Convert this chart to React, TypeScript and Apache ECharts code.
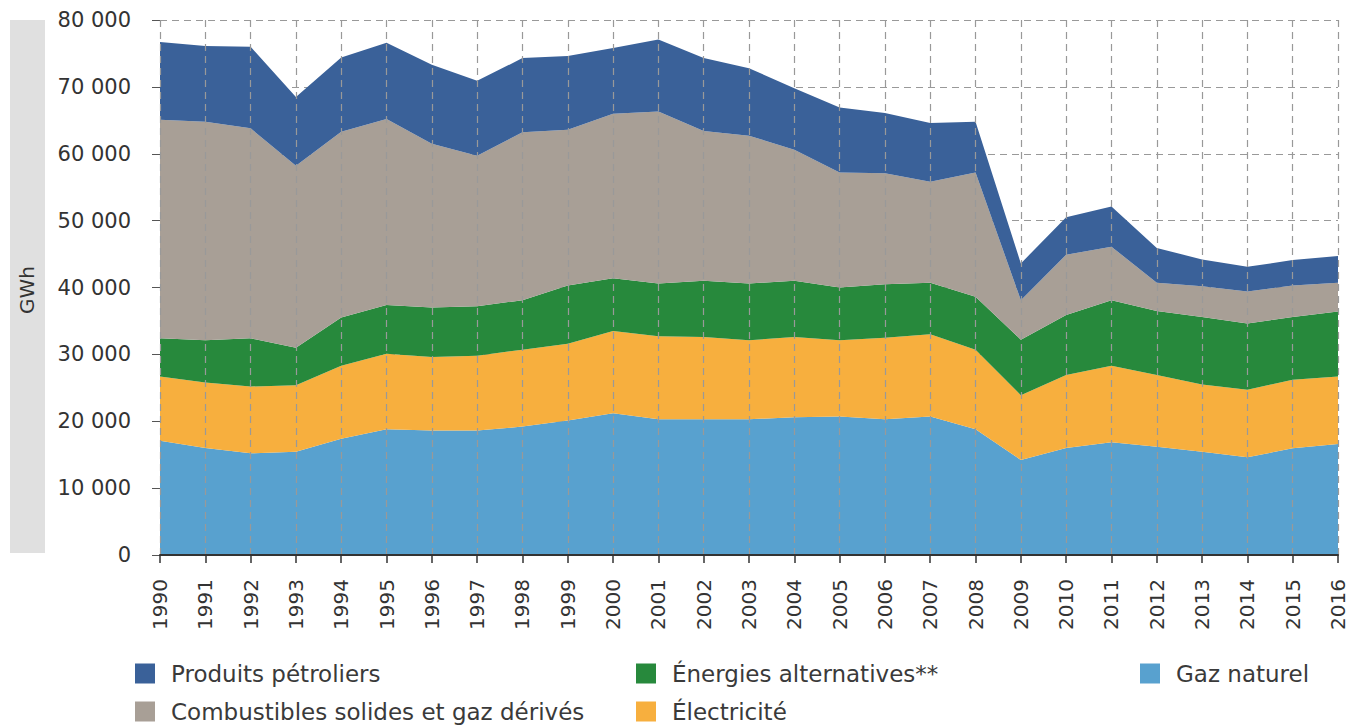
import React, { useEffect, useRef } from "react";
import * as echarts from "echarts";

const years = ["1990","1991","1992","1993","1994","1995","1996","1997","1998","1999","2000","2001","2002","2003","2004","2005","2006","2007","2008","2009","2010","2011","2012","2013","2014","2015","2016"];

const gazNaturel = [17100,16000,15200,15450,17400,18800,18600,18600,19200,20100,21200,20300,20300,20300,20600,20700,20300,20700,18800,14200,16000,16850,16200,15450,14600,15950,16600];
const electricite = [9600,9800,10000,9950,10900,11300,11000,11200,11500,11500,12300,12400,12300,11800,12000,11400,12200,12300,11900,9700,10900,11450,10700,10050,10100,10250,10100];
const energiesAlternatives = [5700,6300,7200,5600,7200,7300,7400,7400,7400,8700,7900,7900,8400,8500,8400,7900,8000,7700,7900,8300,9000,9800,9600,10100,9900,9400,9700];
const combustibles = [32700,32700,31400,27200,27800,27800,24500,22500,25100,23300,24600,25700,22400,22100,19600,17200,16600,15100,18600,5900,9000,8000,4200,4600,4800,4700,4300];
const produitsPetroliers = [11600,11300,12200,10300,11100,11400,11800,11200,11100,11000,9800,10800,10900,10100,9200,9700,9000,8800,7600,5500,5600,6000,5200,4000,3700,3800,4000];

const yTicks = [0, 10000, 20000, 30000, 40000, 50000, 60000, 70000, 80000];

const FONT = "DejaVu Sans";

export default function App() {
  const ref = useRef<HTMLDivElement>(null);
  useEffect(() => {
    if (!ref.current) return;
    const chart = echarts.init(ref.current, null, { renderer: "svg" });
    const mk = (name: string, data: number[], color: string) => ({
      name,
      type: "line",
      stack: "total",
      data,
      symbol: "none",
      lineStyle: { width: 0 },
      areaStyle: { color, opacity: 1 },
      itemStyle: { color },
    });
    const legendItem = (name: string, left: number, top: number) => ({
      data: [name],
      left,
      top,
      orient: "horizontal",
      icon: "rect",
      itemWidth: 20,
      itemHeight: 20,
      padding: 0,
      selectedMode: false,
      textStyle: { fontFamily: FONT, fontSize: 23, color: "#3a3a3a", padding: [0, 0, 0, 11] },
    });
    chart.setOption({
      animation: false,
      textStyle: { fontFamily: FONT },
      grid: { left: 160, right: 22, top: 20, bottom: 170 },
      graphic: [
        { type: "rect", shape: { x: 10, y: 20, width: 35, height: 533 }, style: { fill: "#e0e0e0" } },
        {
          type: "text",
          x: 27,
          y: 290,
          rotation: Math.PI / 2,
          style: { text: "GWh", fontFamily: FONT, fontSize: 20, fill: "#333", align: "center", verticalAlign: "middle" },
        },
      ],
      legend: [
        legendItem("Produits pétroliers", 135, 662),
        legendItem("Combustibles solides et gaz dérivés", 135, 700),
        legendItem("Énergies alternatives**", 636, 662),
        legendItem("Électricité", 636, 700),
        legendItem("Gaz naturel", 1140, 662),
      ],
      xAxis: {
        type: "category",
        data: years,
        boundaryGap: false,
        axisLine: { show: true, lineStyle: { color: "#333", width: 2 } },
        axisTick: { show: true, length: 8, lineStyle: { color: "#333", width: 1.5 }, alignWithLabel: true },
        axisLabel: { rotate: 90, margin: 24, fontFamily: FONT, fontSize: 20, color: "#333" },
        splitLine: { show: true, lineStyle: { color: "#999", type: [7, 5], width: 1.2 } },
        z: 10,
      },
      yAxis: {
        type: "value",
        min: 0,
        max: 80000,
        interval: 10000,
        axisLine: { show: false },
        axisTick: { show: true, length: 8, lineStyle: { color: "#555" } },
        axisLabel: {
          margin: 29,
          fontFamily: FONT,
          fontSize: 21,
          color: "#333",
          formatter: (v: number) => (yTicks.includes(v) ? String(v).replace(/\B(?=(\d{3})+(?!\d))/g, " ") : ""),
        },
        splitLine: { show: true, lineStyle: { color: "#999", type: [7, 5], width: 1.2 } },
      },
      series: [
        mk("Gaz naturel", gazNaturel, "#58a1cf"),
        mk("Électricité", electricite, "#f7af3e"),
        mk("Énergies alternatives**", energiesAlternatives, "#27893c"),
        mk("Combustibles solides et gaz dérivés", combustibles, "#a89f96"),
        mk("Produits pétroliers", produitsPetroliers, "#3a6199"),
      ],
    });
    return () => chart.dispose();
  }, []);
  return <div ref={ref} style={{ position: "absolute", left: 0, top: 0, width: 1360, height: 725 }} />;
}
